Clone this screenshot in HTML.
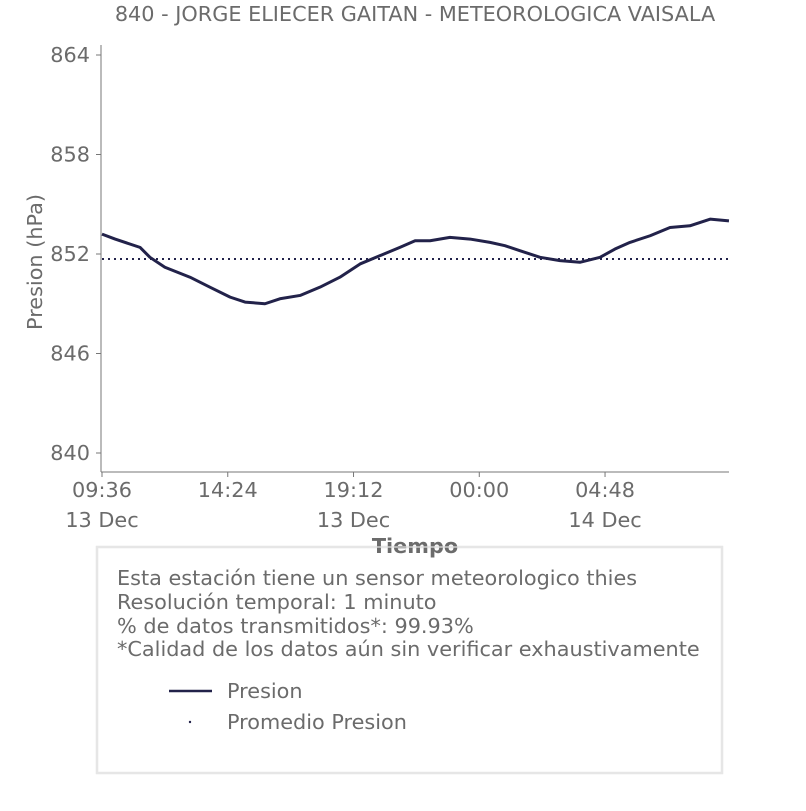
<!DOCTYPE html>
<html><head><meta charset="utf-8"><style>
body{margin:0;background:#fff;width:806px;height:806px;overflow:hidden;font-family:"Liberation Sans","DejaVu Sans",sans-serif;}
svg text{font-family:"DejaVu Sans","Liberation Sans",sans-serif;fill:#6b6b6b;}
</style></head><body>
<svg id="chart" width="806" height="806">
<text x="415" y="21" text-anchor="middle" font-size="20.8">840 - JORGE ELIECER GAITAN - METEOROLOGICA VAISALA</text>
<text transform="translate(42,262) rotate(-90)" text-anchor="middle" font-size="20.8">Presion (hPa)</text>
<g id="axes"></g>
<g id="marks"></g>
<rect x="97" y="547" width="625" height="226" fill="#fff" stroke="#e6e6e6" stroke-width="2.5"/>
<text x="415" y="553" text-anchor="middle" font-size="20.8" font-weight="bold">Tiempo</text>
<line x1="97" y1="547" x2="722" y2="547" stroke="#e6e6e6" stroke-width="2" opacity="0.6"/>
<text x="117" y="585" font-size="20.8">Esta estación tiene un sensor meteorologico thies</text>
<text x="117" y="609" font-size="20.8">Resolución temporal: 1 minuto</text>
<text x="117" y="633" font-size="20.8">% de datos transmitidos*: 99.93%</text>
<text x="117" y="656" font-size="20.8">*Calidad de los datos aún sin verificar exhaustivamente</text>
<line x1="169" y1="691" x2="212" y2="691" stroke="#22224a" stroke-width="2.5"/>
<text x="227" y="698" font-size="20.8">Presion</text>
<circle cx="190" cy="722" r="1.2" fill="#22224a"/>
<text x="227" y="729" font-size="20.8">Promedio Presion</text>
</svg>
<script>
const hours=[0,0.5,1.45,1.83,2.4,3.36,4.12,4.89,5.46,6.22,6.79,7.56,8.32,9.08,9.85,10.61,11.37,11.95,12.52,13.28,14.05,14.81,15.38,15.95,16.72,17.48,18.24,19.01,19.58,20.15,20.92,21.68,22.44,23.21,23.93];
const pressure=[853.2,852.9,852.4,851.8,851.2,850.6,850.0,849.4,849.1,849.0,849.3,849.5,850.0,850.6,851.4,851.9,852.4,852.8,852.8,853.0,852.9,852.7,852.5,852.2,851.8,851.6,851.5,851.8,852.3,852.7,853.1,853.6,853.7,854.1,854.0];
const meanPressure=[851.7];
const yTicks=[840,846,852,858,864];
const xTickHours=[0,4.8,9.6,14.4,19.2];
const xTickTimes=["09:36","14:24","19:12","00:00","04:48"];
const xTickDates=["13 Dec","","13 Dec","","14 Dec"];
const NS="http://www.w3.org/2000/svg";
const X0=102,PXH=26.2,Y0=55,PYH=16.583;
const xs=h=>X0+h*PXH, ys=p=>Y0+(864-p)*PYH;
const axes=document.getElementById('axes'),marks=document.getElementById('marks');
function mk(tag,attrs,parent){const e=document.createElementNS(NS,tag);for(const k in attrs)e.setAttribute(k,attrs[k]);parent.appendChild(e);return e;}
let a=mk('line',{x1:101,y1:45,x2:101,y2:472,stroke:'#777','stroke-width':1},axes);


a=mk('line',{x1:101,y1:472,x2:729,y2:472,stroke:'#777','stroke-width':1},axes);


yTicks.forEach(v=>{
 const y=ys(v);
 let t=mk('line',{x1:96,y1:y,x2:101,y2:y,stroke:'#777'},axes);
 
 
 let l=mk('text',{x:90,y:y+7,'text-anchor':'end','font-size':20.8},axes);l.textContent=v;
 
 
});
xTickHours.forEach((h,i)=>{
 const x=xs(h);
 let t=mk('line',{x1:x,y1:472,x2:x,y2:477,stroke:'#777'},axes);
 
 
 let l=mk('text',{x:x,y:497,'text-anchor':'middle','font-size':20.8},axes);l.textContent=xTickTimes[i];
 
 
 if(xTickDates[i]){let d=mk('text',{x:x,y:527,'text-anchor':'middle','font-size':20.8},axes);d.textContent=xTickDates[i];
 
 }
});
let m=mk('line',{x1:xs(hours[0]),y1:ys(meanPressure[0]),x2:xs(hours[hours.length-1]),y2:ys(meanPressure[0]),stroke:'#22224a','stroke-width':2,'stroke-dasharray':'2,4'},marks);


let pl=mk('polyline',{points:hours.map((h,i)=>xs(h)+','+ys(pressure[i])).join(' '),fill:'none',stroke:'#22224a','stroke-width':3,'stroke-linejoin':'round'},marks);


</script>
</body></html>
